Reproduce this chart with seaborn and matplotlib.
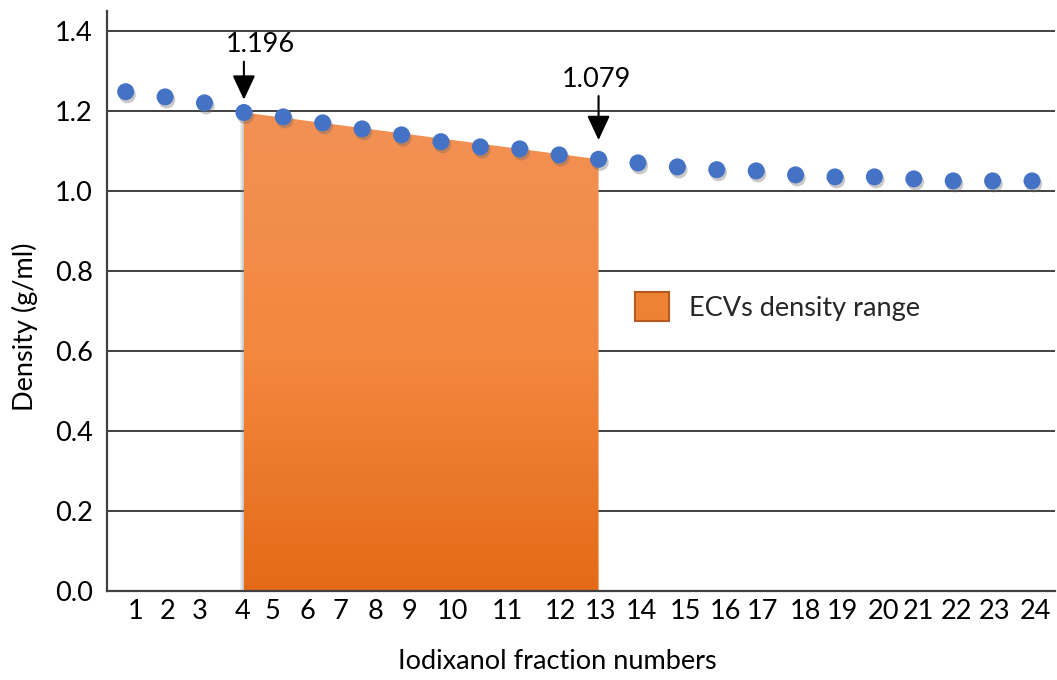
import numpy as np
import matplotlib
matplotlib.use("Agg")
import matplotlib.pyplot as plt
import matplotlib.patheffects as pe
from matplotlib.patches import Patch, Polygon
from matplotlib.colors import LinearSegmentedColormap
import seaborn as sns
import pandas as pd

# ---------------- data ----------------
fractions = [1, 2, 3, 4, 5, 6, 7, 8, 9, 10, 11, 12,
             13, 14, 15, 16, 17, 18, 19, 20, 21, 22, 23, 24]
density = [1.248, 1.235, 1.220, 1.196, 1.185, 1.170, 1.155, 1.140, 1.123, 1.110,
           1.105, 1.090, 1.079, 1.070, 1.060, 1.053, 1.050, 1.040, 1.035, 1.035,
           1.030, 1.025, 1.025, 1.025]
tick_labels = [str(f) for f in fractions]
range_start, range_end = 4, 13
legend_label = "ECVs density range"
x_label = "Iodixanol fraction numbers"
y_label = "Density (g/ml)"

# layout (label positions as they appear in the original, slightly off the points)
tick_positions = [1.25, 2.07, 2.88, 3.97, 4.73, 5.60, 6.46, 7.35, 8.19, 9.30,
                  10.70, 12.04, 13.06, 14.10, 15.20, 16.21, 17.17, 18.24, 19.18,
                  20.22, 21.13, 22.09, 23.06, 24.08]

FS = 19.5

df = pd.DataFrame({"fraction": fractions, "density": density})

sns.set_theme(style="white")
plt.rcParams["font.family"] = ["Lato", "DejaVu Sans"]

fig = plt.figure(figsize=(10.57, 6.8), dpi=100)
ax = fig.add_axes([0.101, 0.131, 0.897, 0.853])

ax.set_xlim(0.52, 24.58)
ax.set_ylim(0, 1.45)

# gridlines
ax.set_yticks([0.0, 0.2, 0.4, 0.6, 0.8, 1.0, 1.2, 1.4])
ax.set_yticklabels(["0.0", "0.2", "0.4", "0.6", "0.8", "1.0", "1.2", "1.4"])
for yv in [0.2, 0.4, 0.6, 0.8, 1.0, 1.2, 1.4]:
    ax.axhline(yv, color="#404040", lw=1.4, zorder=0.5)

# gradient filled region
sub = df[(df.fraction >= range_start) & (df.fraction <= range_end)]
x0, x1 = sub.fraction.iloc[0], sub.fraction.iloc[-1]
y0, y1 = sub.density.iloc[0], sub.density.iloc[-1]
verts = [(x0, 0), (x0, y0), (x1, y1), (x1, 0)]
poly = Polygon(verts, closed=True, facecolor="none", edgecolor="none")
ax.add_patch(poly)
# soft shadow along the left edge
for w, a in [(0.10, 0.12), (0.06, 0.18), (0.03, 0.25)]:
    shadow = Polygon([(x0 - w, 0), (x0 - w, y0 - 0.012), (x0, y0), (x0, 0)],
                     closed=True, facecolor="#808080", edgecolor="none", alpha=a, zorder=1)
    ax.add_patch(shadow)
cmap = LinearSegmentedColormap.from_list("og", ["#E46A17", "#F3883F", "#F29155"])
grad = np.linspace(0, 1, 256).reshape(-1, 1)
im = ax.imshow(grad, extent=[x0, x1, 0, y0], origin="lower", aspect="auto",
               cmap=cmap, zorder=1.2)
im.set_clip_path(poly)

# points
sns.scatterplot(data=df, x="fraction", y="density", ax=ax, s=150,
                color="#4472C4", edgecolor="none", zorder=3, legend=False)
for coll in ax.collections:
    coll.set_path_effects([pe.withSimplePatchShadow(offset=(1.2, -2.2), shadow_rgbFace="#666666", alpha=0.35)])

# annotations
arrow_kw = dict(arrowstyle="-|>,head_length=0.75,head_width=0.35", color="black",
                lw=1.5, mutation_scale=20, shrinkA=0, shrinkB=0)
ax.annotate("", xy=(x0, y0 + 0.032), xytext=(x0, y0 + 0.127), arrowprops=arrow_kw, zorder=4)
ax.text(x0 + 0.42, y0 + 0.17, f"{y0:.3f}", ha="center", va="center", fontsize=FS, color="black")
ax.annotate("", xy=(x1, y1 + 0.048), xytext=(x1, y1 + 0.158), arrowprops=arrow_kw, zorder=4)
ax.text(x1 - 0.05, y1 + 0.199, f"{y1:.3f}", ha="center", va="center", fontsize=FS, color="black")

# legend
handle = Patch(facecolor="#EE8234", edgecolor="#B85A1E", lw=1.5, label=legend_label)
ax.legend(handles=[handle], loc="center left", bbox_to_anchor=(0.557, 0.49),
          frameon=False, fontsize=FS, handlelength=1.25, handleheight=1.25,
          handletextpad=0.75, borderaxespad=0, borderpad=0)

# axes styling
ax.set_xticks(tick_positions)
ax.set_xticklabels(tick_labels)
ax.tick_params(axis="both", length=0, labelsize=FS, colors="black", pad=6)
ax.tick_params(axis="y", pad=10)
for s in ["top", "right"]:
    ax.spines[s].set_visible(False)
for s in ["left", "bottom"]:
    ax.spines[s].set_color("#404040")
    ax.spines[s].set_linewidth(1.6)
ax.set_xlabel(x_label, fontsize=FS, color="black")
ax.set_ylabel(y_label, fontsize=FS, color="black")
ax.xaxis.set_label_coords(0.475, -0.1)
ax.yaxis.set_label_coords(-0.072, 0.455)

fig.savefig("out.png", dpi=100)
